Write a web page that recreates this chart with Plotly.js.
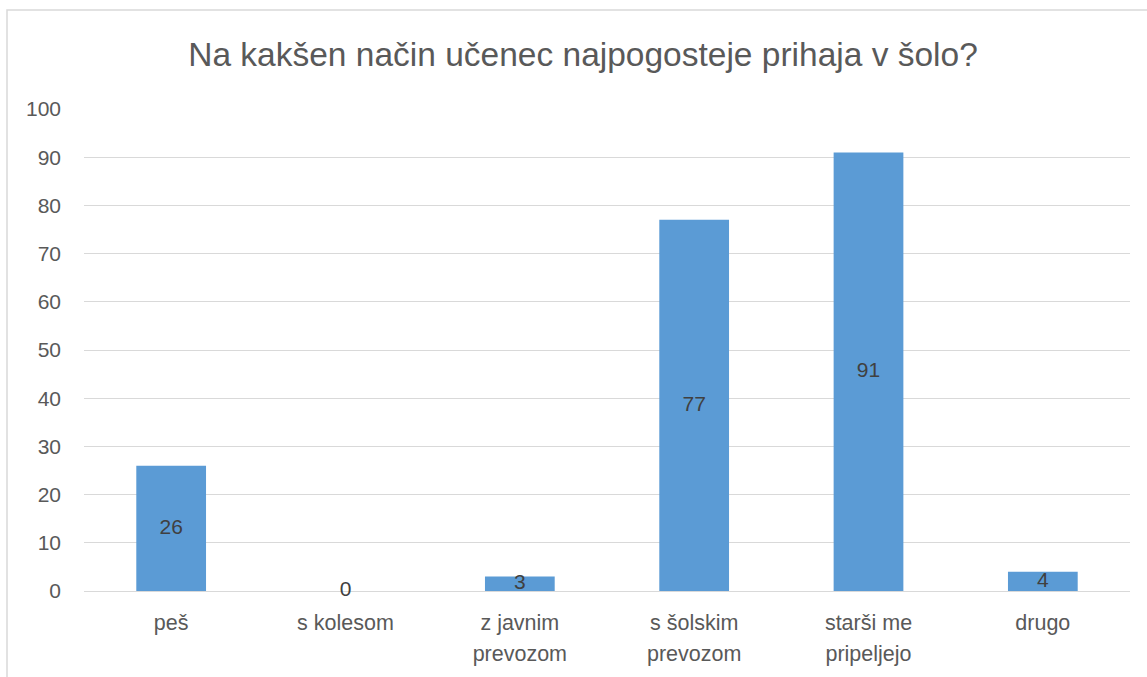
<!DOCTYPE html>
<html>
<head>
<meta charset="utf-8">
<script src="https://cdn.plot.ly/plotly-3.0.1.min.js"></script>
<style>html,body{margin:0;padding:0;background:#fff;}#chart{width:1147px;height:677px;}</style>
</head>
<body>
<div id="chart"></div>
<script>
const categories = ["peš", "s kolesom", "z javnim prevozom", "s šolskim prevozom", "starši me pripeljejo", "drugo"];
const labelLine1 = ["peš", "s kolesom", "z javnim", "s šolskim", "starši me", "drugo"];
const labelLine2 = ["", "", "prevozom", "prevozom", "pripeljejo", ""];
const values = [26, 0, 3, 77, 91, 4];
const yTicks = [0, 10, 20, 30, 40, 50, 60, 70, 80, 90, 100];

const FONT = "Liberation Sans, Arial, sans-serif";
const idx = categories.map((c, i) => i);

const bars = {
  type: "bar",
  x: idx,
  y: values,
  marker: {color: "#5B9BD5"},
  hoverinfo: "skip",
  xaxis: "x",
  yaxis: "y"
};
const labels = {
  type: "scatter",
  mode: "text",
  x: idx,
  y: values.map(v => v / 2),
  text: values.map(String),
  textposition: "middle center",
  textfont: {family: FONT, size: 21, color: "#404040"},
  cliponaxis: false,
  hoverinfo: "skip",
  showlegend: false,
  xaxis: "x2",
  yaxis: "y"
};

const layout = {
  width: 1147,
  height: 677,
  margin: {l: 84, r: 17, t: 109, b: 86},
  paper_bgcolor: "#fff",
  plot_bgcolor: "#fff",
  showlegend: false,
  bargap: 0.6,
  font: {family: FONT, color: "#595959"},
  title: {
    text: "Na kakšen način učenec najpogosteje prihaja v šolo?",
    font: {family: FONT, size: 33.5, color: "#595959"},
    xref: "container", x: 583 / 1147, xanchor: "center",
    yref: "container", y: 1 - 54 / 677, yanchor: "middle"
  },
  xaxis: {
    type: "linear",
    range: [-0.5, 5.5],
    tickmode: "array",
    tickvals: idx,
    ticktext: labelLine1,
    ticks: "",
    showgrid: false,
    zeroline: false,
    showline: false,
    ticklabelstandoff: 16,
    tickfont: {family: FONT, size: 21.5, color: "#595959"},
    fixedrange: true
  },
  xaxis2: {
    type: "linear",
    overlaying: "x",
    side: "bottom",
    range: [-0.5, 5.5],
    tickmode: "array",
    tickvals: idx,
    ticktext: labelLine2,
    ticks: "",
    showgrid: false,
    zeroline: false,
    showline: false,
    ticklabelstandoff: 47,
    tickfont: {family: FONT, size: 21.5, color: "#595959"},
    fixedrange: true
  },
  yaxis: {
    range: [0, 100],
    tickmode: "array",
    tickvals: yTicks,
    showgrid: true,
    gridcolor: "#d9d9d9",
    gridwidth: 1,
    zeroline: true,
    zerolinecolor: "#d9d9d9",
    zerolinewidth: 1,
    showline: false,
    ticks: "",
    ticklabelstandoff: 22,
    tickfont: {family: FONT, size: 21, color: "#595959"},
    fixedrange: true
  },
  shapes: [{
    type: "rect",
    xref: "paper", yref: "paper",
    x0: (7 - 84) / 1046, x1: 1.1,
    y0: -0.3, y1: (591 - 10) / 482,
    line: {color: "#d9d9d9", width: 1.5},
    fillcolor: "rgba(0,0,0,0)",
    layer: "below"
  }]
};

Plotly.newPlot("chart", [bars, labels], layout, {displayModeBar: false, staticPlot: true});
</script>
</body>
</html>
